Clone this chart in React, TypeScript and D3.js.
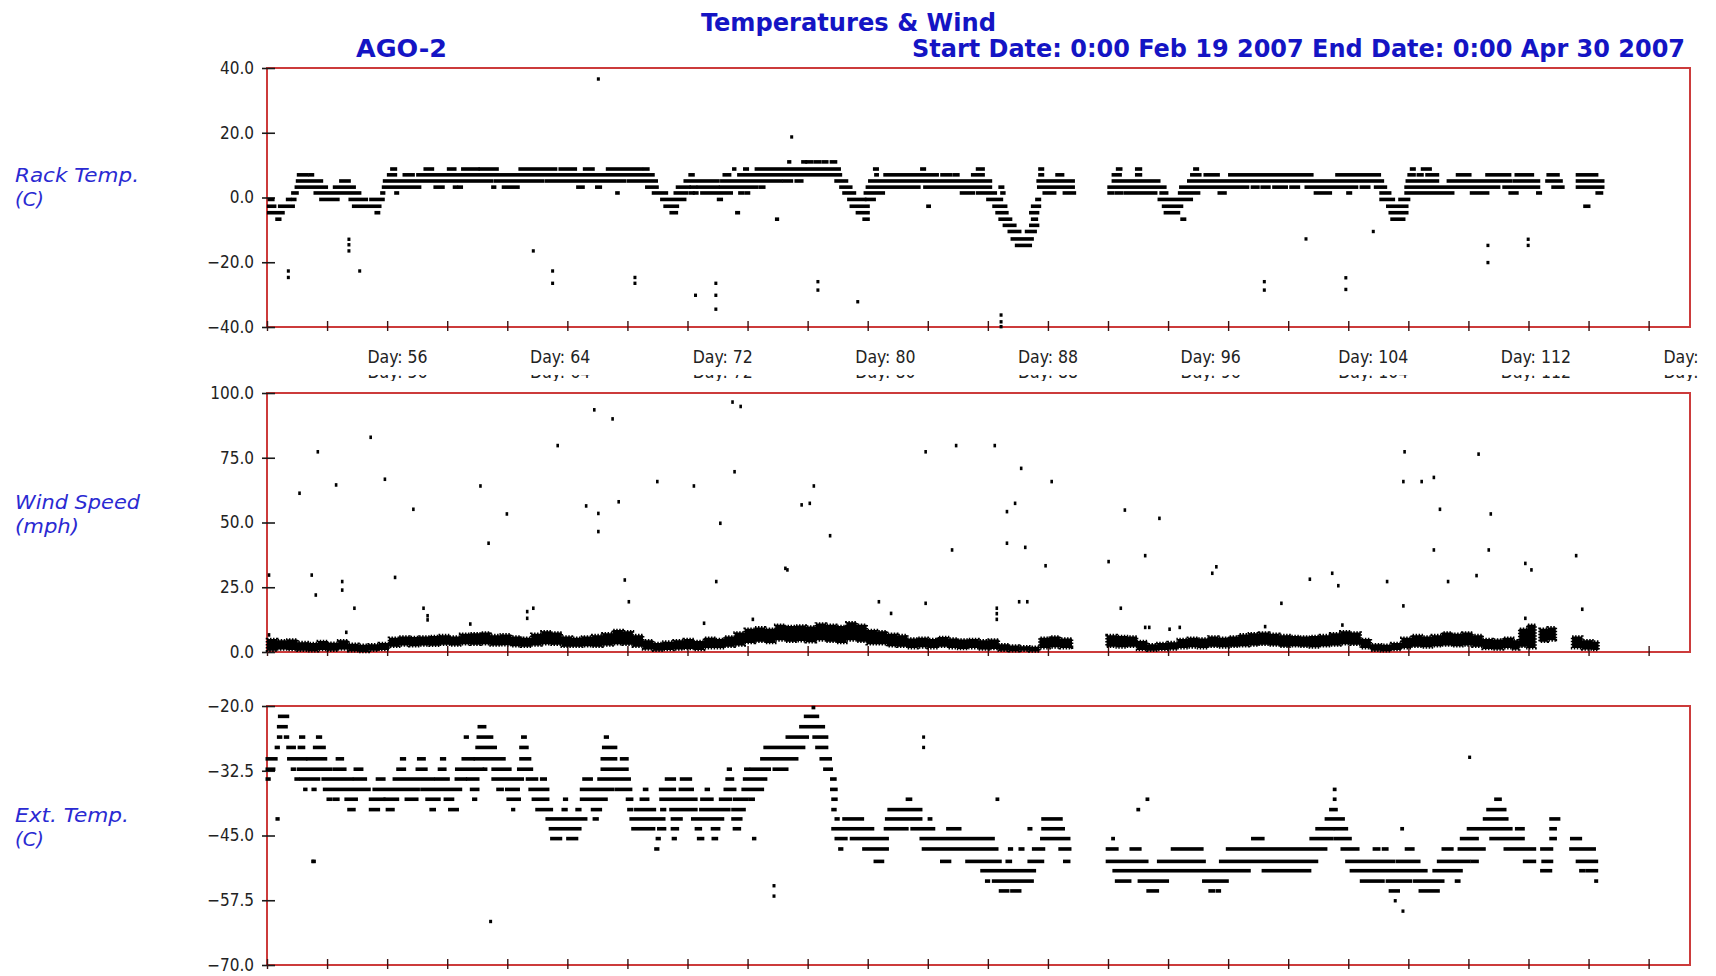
import * as d3 from 'd3'
import { useEffect, useRef } from 'react'

const W = 1716
const H = 976
const LEFT = 267
const RIGHT = 1690

// x axis: day of year, Feb 19 2007 (day 50) .. Apr 30 2007 (day 120)
const startDay = 50
const endDay = 120
const dayLabels = [56, 64, 72, 80, 88, 96, 104, 112, 120]
const minorTickStep = 2.955

const rackTicks = [40, 20, 0, -20, -40]
const windTicks = [100, 75, 50, 25, 0]
const extTicks = [-20, -32.5, -45, -57.5, -70]

// Rack Temp. (C): runs of readings at one level, [fromDay, toDay, degC]
const rackRuns = [
  [75.66, 75.72, 11.0], [76.35, 76.5, 11.0], [76.55, 76.8, 11.0], [76.95, 77.2, 11.0], [77.35, 77.55, 11.0], [77.75, 77.98, 11.0],
  [56.13, 56.33, 8.8], [57.77, 58.15, 8.8], [58.92, 59.25, 8.8], [59.62, 60.39, 8.8], [60.48, 61.33, 8.8], [62.44, 64.21, 8.8],
  [64.41, 65.18, 8.8], [65.61, 66.05, 8.8], [66.74, 68.43, 8.8], [68.56, 68.75, 8.8], [72.95, 73.02, 8.8], [73.49, 73.64, 8.8],
  [74.06, 78.16, 8.8], [79.88, 80.03, 8.8], [82.2, 82.35, 8.8], [84.94, 85.24, 8.8], [88.01, 88.16, 8.8], [91.83, 92.01, 8.8],
  [92.77, 92.98, 8.8], [95.63, 95.78, 8.8], [106.29, 106.44, 8.8], [106.83, 107.23, 8.8],
  [51.54, 51.98, 7.0], [52.1, 52.25, 7.0], [55.97, 56.33, 7.0], [56.74, 57.2, 7.0], [57.41, 69.0, 7.0], [70.8, 70.97, 7.0],
  [72.48, 72.77, 7.0], [73.2, 78.22, 7.0], [79.94, 80.03, 7.0], [80.39, 82.98, 7.0], [83.19, 83.64, 7.0], [83.79, 84.0, 7.0],
  [84.7, 85.24, 7.0], [88.01, 88.16, 7.0], [88.85, 89.15, 7.0], [91.62, 91.98, 7.0], [92.77, 92.98, 7.0], [95.48, 95.9, 7.0],
  [96.14, 96.8, 7.0], [97.35, 101.41, 7.0], [102.62, 104.73, 7.0], [106.17, 106.44, 7.0], [106.62, 106.83, 7.0], [107.05, 107.59, 7.0],
  [108.55, 109.18, 7.0], [110.0, 111.14, 7.0], [111.44, 112.26, 7.0], [113.01, 113.52, 7.0], [114.45, 115.42, 7.0],
  [51.49, 52.69, 5.1], [53.62, 54.05, 5.1], [55.77, 61.05, 5.1], [61.21, 63.56, 5.1], [63.72, 67.61, 5.1], [67.77, 69.16, 5.1],
  [70.56, 72.2, 5.1], [72.36, 75.3, 5.1], [75.42, 75.81, 5.1], [76.02, 76.32, 5.1], [77.98, 78.52, 5.1], [79.64, 85.6, 5.1],
  [87.92, 89.67, 5.1], [91.62, 93.88, 5.1], [95.33, 104.88, 5.1], [106.08, 107.59, 5.1], [108.1, 111.2, 5.1], [111.35, 112.56, 5.1],
  [112.95, 113.67, 5.1], [114.45, 115.72, 5.1],
  [51.43, 52.93, 3.2], [53.31, 54.3, 3.2], [55.72, 57.52, 3.2], [58.26, 58.67, 3.2], [59.21, 59.33, 3.2], [59.44, 59.57, 3.2],
  [61.1, 61.21, 3.2], [61.62, 62.36, 3.2], [65.28, 65.56, 3.2], [66.21, 66.41, 3.2], [68.67, 69.2, 3.2], [70.18, 70.78, 3.2],
  [70.85, 71.1, 3.2], [71.2, 72.2, 3.2], [72.3, 74.09, 3.2], [74.24, 74.45, 3.2], [78.22, 78.73, 3.2], [79.52, 82.08, 3.2],
  [82.35, 85.6, 3.2], [86.05, 86.2, 3.2], [87.95, 89.67, 3.2], [91.41, 94.18, 3.2], [94.94, 98.25, 3.2], [98.46, 98.76, 3.2],
  [98.94, 99.3, 3.2], [99.52, 100.15, 3.2], [100.36, 100.75, 3.2], [101.11, 103.61, 3.2], [103.82, 104.21, 3.2], [104.52, 105.03, 3.2],
  [106.02, 110.6, 3.2], [110.84, 112.56, 3.2], [113.25, 113.76, 3.2], [114.45, 115.72, 3.2],
  [51.26, 51.49, 1.4], [52.36, 54.57, 1.4], [55.64, 55.75, 1.4], [56.33, 56.43, 1.4], [67.2, 67.28, 1.4], [69.0, 69.66, 1.4],
  [70.07, 70.64, 1.4], [70.8, 70.97, 1.4], [71.02, 71.16, 1.4], [71.38, 72.85, 1.4], [73.25, 73.4, 1.4], [73.55, 73.7, 1.4],
  [78.37, 78.91, 1.4], [79.42, 80.33, 1.4], [84.15, 84.76, 1.4], [84.94, 85.84, 1.4], [86.14, 86.26, 1.4], [88.22, 88.76, 1.4],
  [89.21, 89.73, 1.4], [91.41, 91.62, 1.4], [91.77, 92.07, 1.4], [92.23, 93.73, 1.4], [93.97, 94.27, 1.4], [94.88, 95.84, 1.4],
  [96.83, 97.14, 1.4], [101.56, 102.32, 1.4], [103.16, 103.31, 1.4], [104.79, 105.24, 1.4], [106.02, 108.34, 1.4], [109.24, 110.06, 1.4],
  [111.14, 111.5, 1.4], [112.5, 112.65, 1.4], [115.42, 115.66, 1.4],
  [50.1, 50.3, -0.6], [51.0, 51.13, -0.6], [51.25, 51.38, -0.6], [52.64, 53.5, -0.6], [54.08, 54.9, -0.6], [55.1, 55.72, -0.6],
  [69.41, 70.56, -0.6], [72.2, 72.36, -0.6], [78.61, 79.42, -0.6], [79.48, 79.88, -0.6], [85.45, 86.14, -0.6], [87.86, 88.01, -0.6],
  [93.88, 95.48, -0.6], [104.79, 105.42, -0.6], [105.72, 106.17, -0.6],
  [50.07, 50.39, -2.7], [50.61, 51.3, -2.7], [54.25, 55.56, -2.7], [69.57, 70.2, -2.7], [78.73, 79.58, -2.7], [82.5, 82.59, -2.7],
  [85.75, 86.35, -2.7], [87.65, 88.01, -2.7], [94.09, 95.0, -2.7], [105.12, 106.08, -2.7], [114.82, 115.03, -2.7],
  [50.07, 50.8, -4.7], [55.36, 55.5, -4.7], [69.87, 70.15, -4.7], [73.1, 73.2, -4.7], [79.03, 79.58, -4.7], [85.9, 86.41, -4.7],
  [87.56, 87.92, -4.7], [94.18, 94.85, -4.7], [105.24, 106.08, -4.7],
  [50.48, 50.64, -6.7], [75.06, 75.12, -6.7], [79.36, 79.58, -6.7], [86.05, 86.59, -6.7], [87.65, 87.86, -6.7], [95.0, 95.15, -6.7],
  [105.33, 105.93, -6.7],
  [86.26, 86.8, -8.6], [87.56, 87.92, -8.6],
  [86.5, 87.04, -10.5], [87.35, 87.8, -10.5],
  [86.65, 87.65, -12.8],
  [86.86, 87.56, -14.8],
]

// Rack Temp. (C): isolated readings [day, degC]
const rackDots = [
  [51.05, -22.7], [51.05, -24.7], [54.03, -12.9], [54.03, -14.6], [54.03, -16.5], [54.56, -22.7], [63.1, -16.5],
  [64.05, -22.7], [64.05, -26.5], [66.3, 36.6], [68.1, -24.7], [68.1, -26.5], [71.08, -30.2], [72.08, -26.5],
  [72.08, -30.2], [72.08, -34.5], [75.81, 18.7], [77.1, -26.0], [77.1, -28.6], [79.06, -32.2], [86.11, -36.3],
  [86.11, -38.4], [86.11, -39.9], [99.06, -26.0], [99.06, -28.6], [101.11, -12.8], [103.07, -24.8], [103.07, -28.4],
  [104.42, -10.5], [110.06, -14.8], [110.06, -20.1], [112.04, -12.9], [112.04, -14.8],
]

// Wind Speed (mph): the dense band of readings, [day, low, high]
const windBandA = [
  [50.0, 0.5, 5.0], [50.5, 1.0, 4.5], [51.0, 0.8, 4.8], [51.5, 0.5, 3.8], [52.0, 0.3, 3.5], [52.5, 0.8, 4.2],
  [53.0, 0.5, 3.6], [53.5, 1.0, 4.5], [54.0, 0.3, 3.2], [54.5, 0.0, 2.8], [55.0, 0.5, 3.0], [55.5, 0.8, 3.5],
  [56.0, 2.0, 5.5], [56.5, 2.5, 6.0], [57.0, 2.2, 5.8], [57.5, 2.5, 6.0], [58.0, 2.4, 6.2], [58.5, 2.8, 6.5],
  [59.0, 2.5, 6.0], [59.5, 3.0, 7.0], [60.0, 2.8, 7.2], [60.5, 3.0, 7.5], [61.0, 2.5, 6.5], [61.5, 2.6, 6.8],
  [62.0, 2.2, 6.0], [62.5, 2.0, 5.5], [63.0, 2.5, 7.0], [63.5, 3.0, 8.0], [64.0, 2.8, 7.5], [64.5, 2.0, 6.0],
  [65.0, 2.0, 5.5], [65.5, 2.2, 6.0], [66.0, 2.0, 6.5], [66.5, 2.5, 7.2], [67.0, 3.0, 8.5], [67.5, 2.8, 8.0],
  [68.0, 2.0, 6.5], [68.5, 1.0, 4.5], [69.0, 0.5, 3.5], [69.5, 0.8, 4.0], [70.0, 1.0, 4.5], [70.5, 1.2, 5.0],
  [71.0, 0.8, 4.2], [71.5, 1.5, 5.5], [72.0, 1.5, 5.0], [72.5, 2.0, 6.0], [73.0, 2.5, 7.5], [73.5, 3.5, 9.0],
  [74.0, 4.0, 9.5], [74.5, 3.5, 9.0], [75.0, 4.5, 10.5], [75.5, 4.0, 10.0], [76.0, 4.2, 10.2], [76.5, 3.8, 9.8],
  [77.0, 4.5, 11.0], [77.5, 4.0, 10.5], [78.0, 3.5, 10.0], [78.5, 4.5, 11.5], [79.0, 4.0, 10.5], [79.5, 3.0, 8.5],
  [80.0, 3.0, 8.0], [80.5, 2.2, 7.0], [81.0, 2.0, 6.5], [81.5, 1.5, 5.2], [82.0, 1.8, 5.5], [82.5, 1.5, 5.0],
  [83.0, 2.0, 5.8], [83.5, 1.5, 5.2], [84.0, 1.2, 4.8], [84.5, 1.5, 5.0], [85.0, 1.0, 4.5], [85.5, 1.2, 4.8],
  [86.0, 0.5, 3.0], [86.5, 0.3, 2.5], [87.0, 0.5, 2.2], [87.5, 0.2, 2.0], [88.0, 1.5, 5.5], [88.5, 1.8, 6.0],
  [89.0, 1.5, 5.2], [89.6, 1.2, 4.8],
]
const windBandB = [
  [91.3, 2.0, 6.5], [91.8, 1.8, 6.2], [92.3, 2.0, 6.0], [92.8, 0.8, 4.2], [93.3, 0.5, 3.0], [93.8, 0.8, 3.5],
  [94.3, 1.0, 3.8], [94.8, 1.5, 5.0], [95.3, 1.8, 5.5], [95.8, 1.5, 5.2], [96.3, 2.0, 6.0], [96.8, 1.8, 5.5],
  [97.3, 2.0, 6.0], [97.8, 2.2, 6.8], [98.3, 2.5, 7.2], [98.8, 2.8, 7.5], [99.3, 2.5, 7.0], [99.8, 2.0, 6.5],
  [100.3, 2.2, 6.2], [100.8, 2.0, 6.0], [101.3, 1.8, 6.2], [101.8, 2.2, 6.5], [102.3, 2.5, 7.2], [102.8, 3.0, 8.0],
  [103.3, 2.8, 7.5], [103.8, 1.5, 5.0], [104.3, 0.5, 3.0], [104.8, 0.3, 2.8], [105.3, 0.8, 3.5], [105.8, 1.5, 5.5],
  [106.3, 2.0, 6.5], [106.8, 1.8, 6.0], [107.3, 2.2, 6.5], [107.8, 2.5, 7.5], [108.3, 2.2, 7.0], [108.8, 2.5, 7.5],
  [109.3, 2.0, 6.5], [109.8, 1.2, 5.0], [110.3, 1.0, 4.8], [110.8, 1.5, 5.5], [111.3, 1.0, 4.5], [111.6, 2.0, 9.0],
  [112.0, 1.5, 10.5], [112.4, 2.0, 9.5],
]
const windBandC = [[112.6, 4.0, 9.0], [113.0, 4.5, 9.5], [113.4, 4.0, 8.5]]
const windBandD = [[114.2, 1.5, 6.0], [114.7, 1.0, 4.5], [115.2, 0.8, 4.0], [115.5, 1.0, 4.2]]

// Wind Speed (mph): scattered readings [day, mph]
const windDots = [
  [50.1, 29.7], [50.1, 6.6], [51.6, 61.3], [52.2, 29.7], [52.4, 22.0], [52.5, 77.3], [53.4, 64.5], [53.7, 27.2],
  [53.7, 23.9], [53.9, 7.6], [54.3, 16.9], [55.1, 82.9], [55.8, 66.7], [56.3, 28.8], [57.2, 55.1], [57.7, 16.9],
  [57.9, 12.4], [57.9, 14.0], [60.0, 10.8], [60.5, 64.1], [60.9, 42.0], [61.8, 53.3], [62.8, 15.6], [62.8, 13.0],
  [63.1, 16.9], [64.3, 79.7], [65.7, 56.4], [66.1, 93.5], [66.3, 53.5], [66.3, 46.5], [67.0, 90.0], [67.3, 58.0],
  [67.6, 27.8], [67.8, 19.4], [69.2, 65.8], [71.0, 64.1], [71.5, 11.1], [72.1, 27.2], [72.3, 49.7], [72.9, 96.5],
  [73.0, 69.6], [73.3, 94.8], [73.9, 12.6], [75.5, 32.3], [75.6, 31.7], [76.3, 56.8], [76.7, 57.4], [76.9, 64.1],
  [77.7, 44.9], [80.1, 19.4], [80.7, 14.9], [82.4, 77.3], [82.4, 18.8], [83.7, 39.4], [83.9, 79.7], [85.8, 79.7],
  [85.9, 16.9], [85.9, 14.8], [85.9, 12.6], [86.4, 54.2], [86.4, 42.0], [86.8, 57.4], [87.0, 19.4], [87.1, 70.9],
  [87.3, 40.4], [87.4, 19.4], [88.3, 33.3], [88.6, 65.8], [91.4, 34.9], [92.0, 16.9], [92.2, 54.8], [93.2, 37.2],
  [93.2, 9.5], [93.4, 9.5], [93.9, 51.6], [94.4, 8.8], [94.9, 9.5], [96.5, 30.4], [96.7, 32.9], [99.1, 9.8],
  [99.9, 18.8], [101.3, 28.1], [102.4, 30.4], [102.7, 25.6], [102.9, 10.4], [105.1, 27.2], [105.9, 17.8],
  [105.96, 77.3], [105.9, 65.8], [106.8, 65.8], [107.4, 67.4], [107.7, 55.1], [107.4, 39.4], [108.1, 27.2],
  [109.5, 29.5], [109.6, 76.4], [110.2, 53.3], [110.1, 39.4], [111.9, 34.2], [112.2, 31.7], [111.9, 13.0],
  [114.4, 37.2], [114.7, 16.5],
]

// Ext. Temp. (C): runs of readings at one level, [fromDay, toDay, degC]
const extRuns = [
  [76.86, 76.9, -20.3],
  [50.61, 51.02, -22], [76.48, 77.09, -22],
  [50.56, 50.95, -24], [60.43, 60.72, -24], [76.25, 77.38, -24],
  [50.56, 50.68, -26], [50.9, 51.02, -26], [51.65, 51.81, -26], [52.48, 52.64, -26], [59.75, 59.86, -26], [60.38, 61.06, -26],
  [62.57, 62.71, -26], [66.64, 66.75, -26], [75.58, 76.59, -26], [76.9, 77.54, -26],
  [50.45, 50.56, -28], [51.02, 51.35, -28], [51.58, 51.81, -28], [52.33, 52.82, -28], [60.32, 61.24, -28], [62.48, 62.8, -28],
  [66.55, 67.16, -28], [74.49, 76.41, -28], [77.04, 77.54, -28],
  [50.0, 50.45, -30.2], [51.06, 51.92, -30.2], [51.99, 52.89, -30.2], [53.45, 53.72, -30.2], [56.61, 56.77, -30.2], [57.45, 57.74, -30.2],
  [58.58, 58.74, -30.2], [59.64, 60.16, -30.2], [60.23, 61.67, -30.2], [62.48, 62.93, -30.2], [66.48, 67.16, -30.2], [67.43, 67.72, -30.2],
  [74.33, 76.07, -30.2], [77.25, 77.72, -30.2],
  [50.0, 50.34, -32.2], [51.24, 51.35, -32.2], [51.53, 53.16, -32.2], [53.32, 53.84, -32.2], [54.33, 54.67, -32.2], [56.43, 56.77, -32.2],
  [57.38, 57.83, -32.2], [58.47, 58.76, -32.2], [59.32, 60.61, -32.2], [60.68, 60.77, -32.2], [61.11, 61.96, -32.2], [62.37, 63.02, -32.2],
  [66.48, 67.72, -32.2], [72.69, 72.8, -32.2], [73.54, 73.7, -32.2], [73.81, 74.72, -32.2], [74.94, 75.58, -32.2], [77.43, 77.77, -32.2],
  [50.0, 50.11, -34.1], [51.42, 51.53, -34.1], [51.65, 52.55, -34.1], [52.75, 54.18, -34.1], [54.29, 54.85, -34.1], [55.42, 55.76, -34.1],
  [56.25, 58.19, -34.1], [58.31, 58.92, -34.1], [59.3, 59.77, -34.1], [59.86, 60.38, -34.1], [61.11, 62.57, -34.1], [62.8, 63.27, -34.1],
  [63.5, 63.7, -34.1], [65.58, 65.96, -34.1], [66.32, 67.83, -34.1], [69.64, 70.05, -34.1], [70.38, 70.84, -34.1], [72.62, 72.91, -34.1],
  [73.48, 74.54, -34.1], [77.77, 77.95, -34.1],
  [51.85, 51.92, -36.1], [52.26, 52.37, -36.1], [52.82, 55.03, -36.1], [55.26, 57.45, -36.1], [57.61, 59.53, -36.1], [60.05, 60.38, -36.1],
  [61.35, 61.58, -36.1], [61.78, 62.37, -36.1], [62.93, 63.82, -36.1], [65.46, 67.0, -36.1], [67.16, 67.9, -36.1], [68.56, 68.69, -36.1],
  [69.35, 70.05, -36.1], [70.32, 70.93, -36.1], [71.6, 71.72, -36.1], [72.53, 73.02, -36.1], [73.41, 74.38, -36.1], [77.77, 78.0, -36.1],
  [102.5, 102.54, -36.1],
  [53.0, 53.16, -38], [53.32, 53.5, -38], [53.88, 54.4, -38], [55.08, 55.76, -38], [55.8, 56.43, -38], [56.84, 57.38, -38],
  [57.86, 58.47, -38], [58.76, 59.14, -38], [60.16, 60.27, -38], [61.85, 62.42, -38], [63.09, 63.82, -38], [64.63, 64.74, -38],
  [65.46, 66.69, -38], [67.72, 67.95, -38], [68.4, 68.74, -38], [69.37, 71.11, -38], [71.38, 71.9, -38], [72.3, 72.8, -38],
  [72.98, 73.63, -38], [73.77, 73.93, -38], [77.83, 78.0, -38], [81.49, 81.67, -38], [85.91, 85.95, -38], [93.29, 93.33, -38],
  [102.5, 102.54, -38], [110.44, 110.67, -38],
  [54.02, 54.29, -40], [55.08, 55.49, -40], [55.91, 56.21, -40], [58.06, 58.24, -40], [58.98, 59.37, -40], [62.08, 62.14, -40],
  [63.27, 64.0, -40], [64.56, 64.72, -40], [65.24, 65.4, -40], [66.0, 66.41, -40], [67.79, 67.95, -40], [68.13, 69.07, -40],
  [69.41, 69.57, -40], [69.86, 71.11, -40], [71.33, 72.73, -40], [72.91, 73.48, -40], [77.83, 77.95, -40], [80.59, 82.17, -40],
  [92.84, 92.88, -40], [102.32, 102.6, -40], [110.05, 110.9, -40],
  [50.49, 50.55, -41.8], [63.77, 65.69, -41.8], [66.09, 66.25, -41.8], [67.9, 69.53, -41.8], [69.93, 70.38, -41.8], [70.93, 72.42, -41.8],
  [72.91, 73.32, -41.8], [77.99, 78.1, -41.8], [78.37, 79.3, -41.8], [80.47, 82.17, -41.8], [82.57, 82.66, -41.8], [88.16, 89.07, -41.8],
  [102.1, 102.95, -41.8], [109.88, 111.0, -41.8], [113.15, 113.55, -41.8],
  [63.93, 65.4, -43.7], [67.99, 69.03, -43.7], [69.26, 69.57, -43.7], [69.93, 70.2, -43.7], [71.11, 71.33, -43.7], [71.9, 72.23, -43.7],
  [72.98, 73.25, -43.7], [77.83, 79.8, -43.7], [80.41, 81.49, -43.7], [81.72, 82.8, -43.7], [83.48, 84.09, -43.7], [87.48, 87.58, -43.7],
  [88.16, 89.18, -43.7], [101.64, 102.43, -43.7], [102.55, 103.11, -43.7], [105.82, 105.86, -43.7], [109.09, 111.2, -43.7],
  [111.46, 111.8, -43.7], [113.15, 113.38, -43.7],
  [64.0, 64.45, -45.6], [64.79, 65.24, -45.6], [69.19, 69.3, -45.6], [69.98, 70.09, -45.6], [71.22, 71.44, -45.6], [71.94, 72.12, -45.6],
  [73.93, 74.0, -45.6], [77.99, 78.49, -45.6], [78.74, 80.52, -45.6], [82.17, 85.73, -45.6], [88.1, 89.45, -45.6], [91.6, 91.64, -45.6],
  [98.48, 99.0, -45.6], [101.35, 102.4, -45.6], [102.55, 103.29, -45.6], [108.75, 109.54, -45.6], [110.2, 111.8, -45.6],
  [113.15, 113.38, -45.6], [114.17, 114.62, -45.6],
  [69.12, 69.23, -47.6], [78.17, 78.28, -47.6], [79.35, 80.52, -47.6], [82.28, 85.91, -47.6], [86.52, 86.63, -47.6], [87.04, 87.19, -47.6],
  [87.7, 88.21, -47.6], [89.0, 89.5, -47.6], [91.33, 91.82, -47.6], [92.5, 92.95, -47.6], [94.53, 96.0, -47.6], [97.24, 102.09, -47.6],
  [102.88, 103.67, -47.6], [104.46, 104.7, -47.6], [104.91, 105.1, -47.6], [106.04, 106.38, -47.6], [107.85, 108.3, -47.6],
  [108.64, 109.88, -47.6], [110.9, 112.36, -47.6], [112.7, 113.2, -47.6], [114.13, 115.3, -47.6],
  [52.26, 52.33, -50], [79.91, 80.29, -50], [83.18, 83.59, -50], [84.42, 86.07, -50], [86.4, 86.58, -50], [87.48, 88.16, -50],
  [89.23, 89.45, -50], [91.33, 93.29, -50], [93.85, 96.11, -50], [96.9, 101.64, -50], [103.11, 105.43, -50], [105.59, 106.67, -50],
  [107.62, 109.14, -50], [109.27, 109.54, -50], [111.85, 112.36, -50], [112.76, 113.2, -50], [114.45, 115.41, -50],
  [85.16, 87.76, -51.8], [91.66, 98.32, -51.8], [99.0, 101.3, -51.8], [103.33, 107.02, -51.8], [107.4, 108.75, -51.8],
  [112.7, 113.15, -51.8], [114.62, 114.8, -51.8], [114.95, 115.41, -51.8],
  [85.39, 85.5, -53.8], [85.73, 87.65, -53.8], [91.78, 92.45, -53.8], [92.9, 94.3, -53.8], [96.07, 97.24, -53.8], [103.83, 104.91, -53.8],
  [105.1, 106.27, -53.8], [106.45, 107.85, -53.8], [108.5, 108.64, -53.8], [115.36, 115.41, -53.8],
  [86.07, 86.45, -55.7], [86.63, 87.04, -55.7], [93.33, 93.81, -55.7], [96.38, 96.56, -55.7], [96.73, 96.86, -55.7],
  [105.25, 105.66, -55.7], [106.72, 107.62, -55.7],
]

// Ext. Temp. (C): isolated readings [day, degC]
const extDots = [
  [52.26, -50.0], [61.0, -61.6], [74.94, -54.7], [74.94, -56.7], [82.3, -26.0], [82.3, -28.0],
  [105.5, -57.6], [105.88, -59.6], [109.16, -29.9],
]

const NARROW = "'Liberation Sans Narrow', 'DejaVu Sans Condensed', 'DejaVu Sans', sans-serif"
const TITLE_FONT = "'DejaVu Sans Condensed', 'DejaVu Sans', sans-serif"
const FRAME_RED = '#cc3b3b'

const x = d3.scaleLinear().domain([startDay, endDay]).range([LEFT, RIGHT])
const yRack = d3.scaleLinear().domain([-40, 40]).range([327, 68])
const yWind = d3.scaleLinear().domain([0, 100]).range([652, 393])
const yExt = d3.scaleLinear().domain([-70, -20]).range([965, 706])

const Axes = ({ y, ticks, dayText }) => {
  const ref = useRef(null)

  useEffect(() => {
    const g = d3.select(ref.current)
    g.selectAll('*').remove()
    const [bottom, top] = y.range()

    g.append('rect')
      .attr('x', LEFT).attr('y', top)
      .attr('width', RIGHT - LEFT).attr('height', bottom - top)
      .attr('fill', 'none').attr('stroke', FRAME_RED).attr('stroke-width', 2)

    const left = g.append('g')
      .attr('transform', `translate(${LEFT},0)`)
      .call(d3.axisLeft(y).tickValues(ticks).tickFormat(d3.format('.1f')).tickSize(5).tickPadding(8))
    left.select('.domain').remove()
    left.attr('font-size', 17).attr('font-family', NARROW)
    left.selectAll('.tick line').attr('x1', 8).attr('x2', -5).attr('stroke', '#1a1a1a').attr('stroke-width', 1.6)
    left.selectAll('.tick text').attr('fill', '#222')

    const minor = d3.range(startDay, endDay, minorTickStep)
    const bot = g.append('g')
      .attr('transform', `translate(0,${bottom})`)
      .call(d3.axisBottom(x).tickValues(minor).tickSize(4).tickFormat(() => ''))
    bot.select('.domain').remove()
    bot.selectAll('.tick line').attr('y1', -6).attr('y2', 4).attr('stroke', '#3a1414').attr('stroke-width', 1.4)

    if (dayText) {
      // the label row, and a second row underneath of which only the foot shows
      const rows = [[24, bottom + 3, 42], [39, bottom + 48, 6]]
      rows.forEach(([pad, clipY, clipH], i) => {
        const id = `dayClip${i}`
        g.append('clipPath').attr('id', id)
          .append('rect').attr('x', 0).attr('y', clipY).attr('width', 1703).attr('height', clipH)
        const lab = g.append('g').attr('clip-path', `url(#${id})`)
          .append('g')
          .attr('transform', `translate(8,${bottom})`)
          .call(d3.axisBottom(x).tickValues(dayLabels).tickSize(0).tickPadding(pad).tickFormat(d => `Day: ${d}`))
        lab.select('.domain').remove()
        lab.attr('font-size', 17.5).attr('font-family', NARROW)
        lab.selectAll('.tick text').attr('fill', '#222')
      })
    }
  }, [])

  return <g ref={ref} />
}

const Runs = ({ runs, y }) => (
  <g fill="#000">
    {runs.map(([d0, d1, v], i) => (
      <rect key={i} x={x(d0) - 1.5} y={y(v) - 1.8}
        width={Math.max(3, x(d1) - x(d0) + 3)} height={3.6} />
    ))}
  </g>
)

const Dots = ({ dots, y, w = 3, h = 3.4 }) => (
  <g fill="#000">
    {dots.map(([d, v], i) => (
      <rect key={i} x={x(d) - w / 2} y={y(v) - h / 2} width={w} height={h} />
    ))}
  </g>
)

export default function App() {
  const band = d3.area()
    .x(d => x(d[0]))
    .y0(d => yWind(d[1]))
    .y1(d => yWind(d[2]))
    .curve(d3.curveStepAfter)

  const sideLabel = (lines, y0) => lines.map(([t, len], i) => (
    <text key={t} x={15} y={y0 + i * 24} fontSize={20} fontStyle="italic" fill="#2a2ad2"
      fontFamily={TITLE_FONT} textLength={len} lengthAdjust="spacingAndGlyphs">{t}</text>
  ))

  return (
    <svg width={W} height={H} style={{ position: 'absolute', left: 0, top: 0, background: '#fff' }}>
      <text x={701} y={31} fontSize={25} fontWeight="bold" fill="#1414c4" fontFamily={TITLE_FONT}
        textLength={295} lengthAdjust="spacingAndGlyphs">Temperatures &amp; Wind</text>
      <text x={356} y={57} fontSize={25} fontWeight="bold" fill="#1414c4" fontFamily={TITLE_FONT}
        textLength={91} lengthAdjust="spacingAndGlyphs">AGO-2</text>
      <text x={912} y={57} fontSize={25} fontWeight="bold" fill="#1414c4" fontFamily={TITLE_FONT}
        textLength={773} lengthAdjust="spacingAndGlyphs">Start Date: 0:00 Feb 19 2007 End Date: 0:00 Apr 30 2007</text>

      {sideLabel([['Rack Temp.', 124], ['(C)', 29]], 182)}
      {sideLabel([['Wind Speed', 125], ['(mph)', 64]], 509)}
      {sideLabel([['Ext. Temp.', 114], ['(C)', 29]], 822)}

      <Axes y={yRack} ticks={rackTicks} dayText />
      <Axes y={yWind} ticks={windTicks} />
      <Axes y={yExt} ticks={extTicks} />

      <Runs runs={rackRuns} y={yRack} />
      <Dots dots={rackDots} y={yRack} />

      <g fill="#000" stroke="#000" strokeWidth={2.6} strokeDasharray="1.5 1.5">
        {[windBandA, windBandB, windBandC, windBandD].map((seg, i) => (
          <path key={i} d={band(seg)} />
        ))}
      </g>
      <Dots dots={windDots} y={yWind} w={2.6} h={3.6} />

      <Runs runs={extRuns} y={yExt} />
      <Dots dots={extDots} y={yExt} />
    </svg>
  )
}
